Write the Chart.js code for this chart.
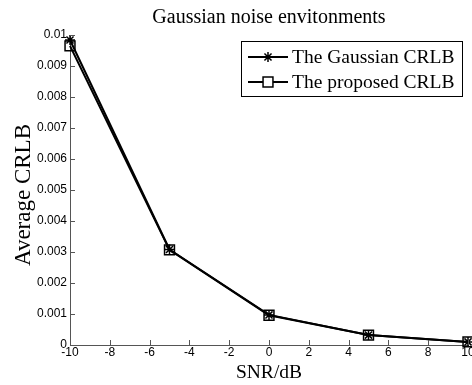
<!DOCTYPE html>
<html>
<head>
<meta charset="utf-8">
<script src="https://cdn.jsdelivr.net/npm/chart.js@4"></script>
<style>
  html, body { margin: 0; padding: 0; background: #fff; overflow: hidden; }
  canvas { display: block; }
</style>
</head>
<body>
<canvas id="crlb" width="472" height="385"></canvas>
<script>
// data
const snr = [-10, -5, 0, 5, 10];
const gaussianCrlb = [0.00984, 0.00308, 0.00097, 0.00032, 0.0001];
const proposedCrlb = [0.00965, 0.00307, 0.00096, 0.00032, 0.0001];
const seriesNames = ['The Gaussian CRLB', 'The proposed CRLB'];
const xTicks = [-10, -8, -6, -4, -2, 0, 2, 4, 6, 8, 10];
const yTicks = [0, 0.001, 0.002, 0.003, 0.004, 0.005, 0.006, 0.007, 0.008, 0.009, 0.01];

const titleText = 'Gaussian noise envitonments';
const xTitle = 'SNR/dB';
const yTitle = 'Average CRLB';

const serif = '"Liberation Serif", "DejaVu Serif", serif';
const sans = '"Liberation Sans", Arial, sans-serif';

function toPoints(vals) {
  return snr.map((x, i) => ({ x: x, y: vals[i] }));
}

// MATLAB-like decorations: inward ticks, x tick labels, title, axis labels, boxed legend
const decorations = {
  id: 'decorations',
  afterDatasetsDraw(chart) {
    const ctx = chart.ctx;
    const area = chart.chartArea;
    const xs = chart.scales.x, ys = chart.scales.y;
    ctx.save();
    ctx.strokeStyle = '#555';
    ctx.lineWidth = 1;
    ctx.beginPath();
    xTicks.forEach(t => {
      const px = Math.round(xs.getPixelForValue(t)) + 0.5;
      ctx.moveTo(px, area.bottom);
      ctx.lineTo(px, area.bottom - 5);
    });
    yTicks.forEach(t => {
      const py = Math.round(ys.getPixelForValue(t)) + 0.5;
      ctx.moveTo(area.left, py);
      ctx.lineTo(area.left + 5, py);
    });
    ctx.stroke();

    ctx.fillStyle = '#000';
    ctx.textAlign = 'center';
    ctx.textBaseline = 'middle';
    ctx.font = '12px ' + sans;
    xTicks.forEach(t => {
      ctx.fillText(String(t), xs.getPixelForValue(t), area.bottom + 8);
    });

    ctx.font = '20px ' + serif;
    ctx.fillText(titleText, (area.left + area.right) / 2, 18);
    ctx.font = '19.5px ' + serif;
    ctx.fillText(xTitle, (area.left + area.right) / 2, 373);
    ctx.save();
    ctx.translate(24, 195);
    ctx.rotate(-Math.PI / 2);
    ctx.font = '23px ' + serif;
    ctx.fillText(yTitle, 0, 0);
    ctx.restore();

    // legend box
    const lx = 241, ly = 41, lw = 221, lh = 55;
    ctx.fillStyle = '#fff';
    ctx.fillRect(lx, ly, lw, lh);
    ctx.strokeStyle = '#000';
    ctx.lineWidth = 1;
    ctx.strokeRect(lx + 0.5, ly + 0.5, lw, lh);
    ctx.font = '19.5px ' + serif;
    ctx.textAlign = 'left';
    chart.data.datasets.forEach((ds, i) => {
      const cy = ly + 16 + i * 25;
      ctx.strokeStyle = '#000';
      ctx.lineWidth = 2;
      ctx.beginPath();
      ctx.moveTo(lx + 7, cy);
      ctx.lineTo(lx + 47, cy);
      ctx.stroke();
      ctx.fillStyle = '#fff';
      ctx.lineWidth = ds.pointBorderWidth;
      Chart.helpers.drawPoint(ctx, {
        pointStyle: ds.pointStyle,
        radius: ds.pointRadius,
        borderWidth: ds.pointBorderWidth,
        rotation: 0
      }, lx + 27, cy);
      ctx.fillStyle = '#000';
      ctx.fillText(ds.label, lx + 51, cy + 1);
    });
    ctx.restore();
  }
};

new Chart(document.getElementById('crlb'), {
  type: 'line',
  data: {
    datasets: [
      {
        label: seriesNames[0],
        data: toPoints(gaussianCrlb),
        borderColor: '#000',
        borderWidth: 2,
        pointStyle: 'star',
        pointRadius: 5,
        pointBorderWidth: 1.5,
        pointBorderColor: '#000',
        pointBackgroundColor: 'rgba(0,0,0,0)',
        tension: 0,
        clip: false,
        order: 1
      },
      {
        label: seriesNames[1],
        data: toPoints(proposedCrlb),
        borderColor: '#000',
        borderWidth: 2,
        pointStyle: 'rect',
        pointRadius: 7,
        pointBorderWidth: 1.5,
        pointBorderColor: '#000',
        pointBackgroundColor: 'rgba(0,0,0,0)',
        tension: 0,
        clip: false,
        order: 0
      }
    ]
  },
  options: {
    responsive: false,
    animation: false,
    layout: { autoPadding: false, padding: { top: 35, right: 4, left: 0, bottom: 0 } },
    plugins: {
      legend: { display: false },
      title: { display: false },
      tooltip: { enabled: false }
    },
    scales: {
      x: {
        type: 'linear',
        min: -10,
        max: 10,
        afterBuildTicks: s => { s.ticks = xTicks.map(v => ({ value: v })); },
        ticks: { display: false },
        grid: { display: false, drawTicks: false },
        border: { display: true, color: '#555', width: 1 },
        afterFit: s => { s.height = 40; }
      },
      y: {
        type: 'linear',
        min: 0,
        max: 0.01,
        afterBuildTicks: s => { s.ticks = yTicks.map(v => ({ value: v })); },
        ticks: {
          color: '#000',
          font: { family: sans, size: 12 },
          padding: 3,
          autoSkip: false,
          callback: v => String(+v.toFixed(3))
        },
        grid: { display: false, drawTicks: false },
        border: { display: true, color: '#555', width: 1 },
        afterFit: s => { s.width = 70; s.paddingTop = 0; s.paddingBottom = 0; }
      }
    }
  },
  plugins: [decorations]
});
</script>
</body>
</html>
